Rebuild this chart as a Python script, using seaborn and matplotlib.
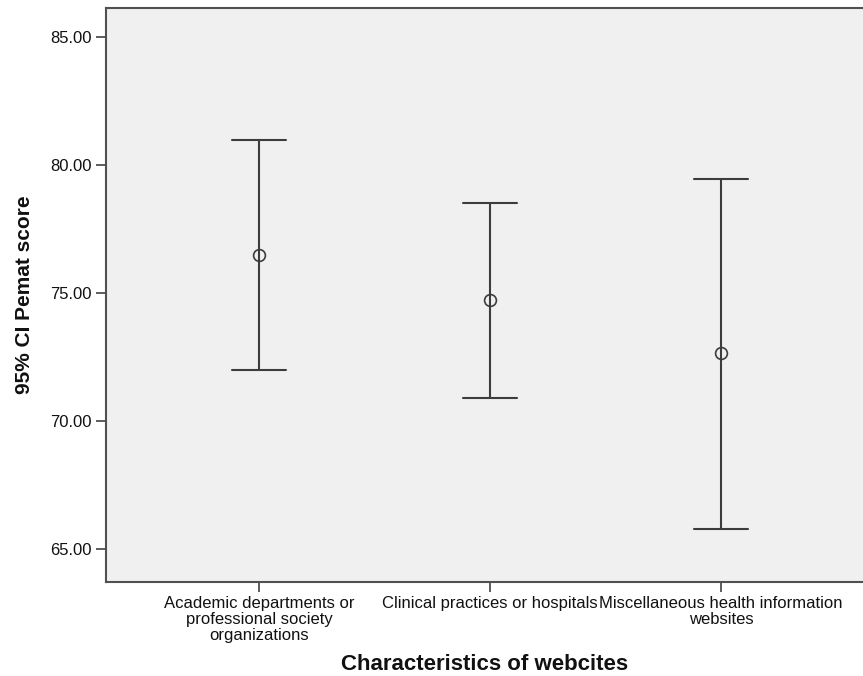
import numpy as np
import pandas as pd
import matplotlib
matplotlib.use("Agg")
import matplotlib.pyplot as plt
import seaborn as sns

# Website categories and 95% confidence intervals of the PEMAT score
categories = [
    "Academic departments or\nprofessional society\norganizations",
    "Clinical practices or hospitals",
    "Miscellaneous health information\nwebsites",
]
means = [76.50, 74.71, 72.65]
ci_lower = [72.00, 70.90, 65.78]
ci_upper = [80.97, 78.51, 79.45]
y_ticks = [65.0, 70.0, 75.0, 80.0, 85.0]

# long form: lower bound, mean, upper bound per category
rows = []
for cat, lo, m, hi in zip(categories, ci_lower, means, ci_upper):
    for v in (lo, m, hi):
        rows.append({"category": cat, "score": v})
df = pd.DataFrame(rows)

sns.set_theme(style="white")
plt.rcParams["font.family"] = ["Liberation Sans", "DejaVu Sans"]

line_col = "#3c3c3c"
fig = plt.figure(figsize=(8.63, 6.76), dpi=100)
ax = fig.add_axes([0.1228, 0.139, 0.8772, 0.849])
ax.set_facecolor("#f0f0f0")

sns.pointplot(
    data=df, x="category", y="score", order=categories,
    estimator="median",
    errorbar=lambda v: (v.min(), v.max()),
    capsize=0.234, err_kws={"linewidth": 1.5, "color": line_col},
    linestyle="none", markers="o", color=line_col,
    markerfacecolor="none", markeredgecolor=line_col,
    markersize=8.5, markeredgewidth=1.2,
    ax=ax,
)

ax.set_xlim(-0.662, 2.615)
ax.set_ylim(63.71, 86.13)
ax.set_yticks(y_ticks)
ax.set_yticklabels([f"{t:.2f}" for t in y_ticks])

for side in ["left", "bottom", "top", "right"]:
    ax.spines[side].set_color("#505050")
    ax.spines[side].set_linewidth(1.5)
ax.spines["right"].set_visible(False)

ax.tick_params(axis="both", direction="out", length=7, width=1.3,
               color="#505050", labelsize=12, labelcolor="#111111",
               left=True, bottom=True, pad=3)
ax.tick_params(axis="x", pad=3)
for lbl in ax.get_xticklabels():
    lbl.set_linespacing(1.08)

ax.set_xlabel("Characteristics of webcites", fontsize=16,
              fontweight="bold", color="#111111", labelpad=8)
ax.set_ylabel("95% CI Pemat score", fontsize=15, fontweight="bold",
              color="#111111", labelpad=12)

fig.savefig("out.png", dpi=100)
